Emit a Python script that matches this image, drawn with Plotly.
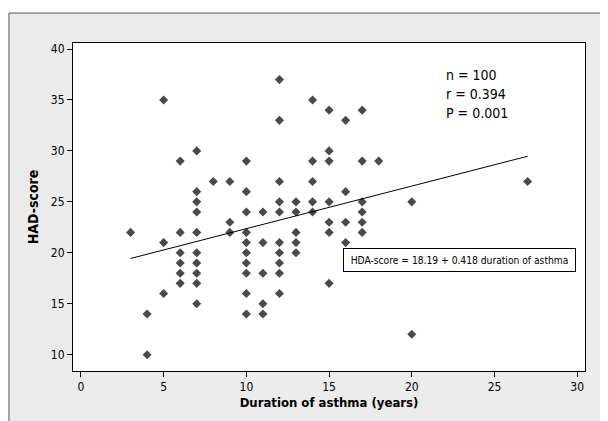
import plotly.graph_objects as go

# Duration of asthma (years) and HAD-score
duration = [3,
            4, 4,
            5, 5, 5,
            6, 6, 6, 6, 6, 6,
            7, 7, 7, 7, 7, 7, 7, 7, 7, 7,
            8,
            9, 9, 9,
            10, 10, 10, 10, 10, 10, 10, 10, 10, 10,
            11, 11, 11, 11, 11,
            12, 12, 12, 12, 12, 12, 12, 12, 12, 12,
            13, 13, 13, 13, 13,
            14, 14, 14, 14, 14,
            15, 15, 15, 15, 15, 15, 15,
            16, 16, 16, 16,
            17, 17, 17, 17, 17, 17,
            18,
            20, 20,
            27]
had_score = [22,
             14, 10,
             35, 21, 16,
             29, 22, 20, 19, 18, 17,
             30, 26, 25, 24, 22, 20, 19, 18, 17, 15,
             27,
             27, 23, 22,
             29, 26, 24, 22, 21, 20, 19, 18, 16, 14,
             24, 21, 18, 15, 14,
             37, 33, 27, 25, 24, 21, 20, 19, 18, 16,
             25, 24, 22, 21, 20,
             35, 29, 27, 25, 24,
             34, 30, 29, 25, 23, 22, 17,
             33, 26, 23, 21,
             34, 29, 25, 24, 23, 22,
             29,
             25, 12,
             27]

intercept = 18.19
slope = 0.418
stats_lines = ["n = 100", "r = 0.394", "P = 0.001"]
equation = "HDA-score = 18.19 + 0.418 duration of asthma"

x_ticks = [0, 5, 10, 15, 20, 25, 30]
y_ticks = [10, 15, 20, 25, 30, 35, 40]

FONT = "DejaVu Sans Condensed, DejaVu Sans, sans-serif"

fig = go.Figure()
fig.add_trace(go.Scatter(
    x=duration, y=had_score, mode="markers",
    marker=dict(symbol="diamond", size=7, color="#4a4a4a"),
    showlegend=False, hoverinfo="x+y"))

x_line = [min(duration), max(duration)]
y_line = [intercept + slope * v for v in x_line]
fig.add_trace(go.Scatter(
    x=x_line, y=y_line, mode="lines",
    line=dict(color="black", width=1), showlegend=False))

# stats text
stat_y = [37.45, 35.62, 33.75]
for txt, yy in zip(stats_lines, stat_y):
    fig.add_annotation(x=21.95, y=yy, text=txt, showarrow=False,
                       xanchor="left", yanchor="middle",
                       font=dict(family=FONT, size=14, color="black"))

fig.add_annotation(x=22.9, y=19.28, text=equation, showarrow=False,
                   xanchor="center", yanchor="middle",
                   width=227, height=18, borderpad=2,
                   bordercolor="black", borderwidth=1, bgcolor="white",
                   font=dict(family=FONT, size=10.2, color="black"))

# white outer strips (top and left) with dark panel edge
PX0 = -0.1251
PY1 = 1.0914
fig.add_shape(type="rect", xref="paper", yref="paper",
              x0=-0.3, x1=1.3, y0=PY1, y1=1.3,
              fillcolor="white", line=dict(width=0), layer="above")
fig.add_shape(type="rect", xref="paper", yref="paper",
              x0=-0.3, x1=PX0, y0=-0.3, y1=1.3,
              fillcolor="white", line=dict(width=0), layer="above")
fig.add_shape(type="line", xref="paper", yref="paper",
              x0=PX0, x1=1.3, y0=PY1, y1=PY1,
              line=dict(color="#555555", width=1), layer="above")
fig.add_shape(type="line", xref="paper", yref="paper",
              x0=PX0, x1=PX0, y0=-0.3, y1=PY1,
              line=dict(color="#555555", width=1), layer="above")

fig.update_layout(
    width=616, height=429,
    margin=dict(l=65, r=39, t=35, b=66, autoexpand=False),
    paper_bgcolor="#ebebeb", plot_bgcolor="white",
    font=dict(family=FONT, size=12, color="black"),
    xaxis=dict(range=[-0.48, 30.47], tickvals=x_ticks, ticks="outside",
               ticklen=5, tickcolor="black", showgrid=False, zeroline=False,
               showline=True, linecolor="black", linewidth=1, mirror=True,
               automargin=False,
               title=dict(text="<b>Duration of asthma (years)</b>", standoff=4,
                          font=dict(family=FONT, size=13))),
    yaxis=dict(range=[8.4, 40.59], tickvals=y_ticks, ticks="outside",
               ticklen=5, tickcolor="black", showgrid=False, zeroline=False,
               showline=True, linecolor="black", linewidth=1, mirror=True,
               automargin=False,
               title=dict(text="<b>HAD-score</b>", standoff=8,
                          font=dict(family=FONT, size=14))),
)

fig.write_html("out.html")
